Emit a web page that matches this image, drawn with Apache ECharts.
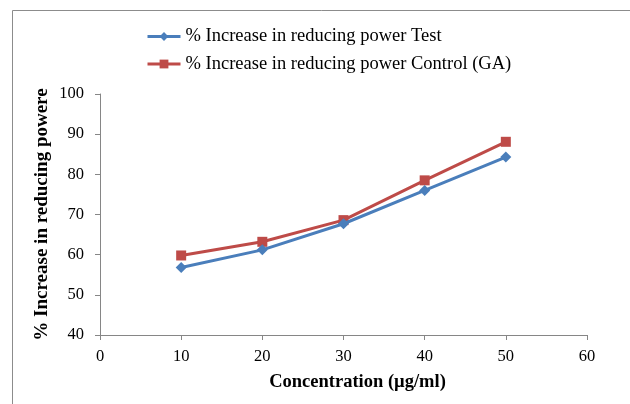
<!DOCTYPE html>
<html><head><meta charset="utf-8">
<script src="https://cdn.jsdelivr.net/npm/echarts@6/dist/echarts.min.js"></script>
<style>html,body{margin:0;padding:0;background:#fff}#c{width:630px;height:404px}</style>
</head><body><div id="c"></div>
<script>
const concentrations = [10, 20, 30, 40, 50];
const testValues = [56.8, 61.2, 67.7, 76.0, 84.3];
const controlValues = [59.8, 63.2, 68.6, 78.5, 88.1];
const seriesNames = ['% Increase in reducing power Test', '% Increase in reducing power Control (GA)'];
const xTitle = 'Concentration (\u00b5g/ml)';
const yTitle = '% Increase in reducing powere';

const chart = echarts.init(document.getElementById('c'), null, {renderer: 'canvas'});
const font = '"Liberation Serif","Times New Roman",serif';
chart.setOption({
  animation: false,
  backgroundColor: '#fff',
  graphic: [{
    type: 'rect', shape: {x: 12.5, y: 10.5, width: 700, height: 500},
    style: {fill: 'none', stroke: '#8c8c8c', lineWidth: 1}, silent: true
  }],
  legend: {
    orient: 'vertical', left: 146, top: 27, itemGap: 8.5, padding: 0,
    itemWidth: 33, itemHeight: 11,
    lineStyle: {width: 3},
    textStyle: {fontFamily: font, fontSize: 18.5, color: '#000'},
    data: seriesNames
  },
  grid: {left: 100, right: 43, top: 94, bottom: 69},
  xAxis: {
    type: 'value', min: 0, max: 60, interval: 10,
    name: xTitle, nameLocation: 'middle', nameGap: 38, nameMoveOverlap: false,
    nameTextStyle: {fontFamily: font, fontSize: 18.5, fontWeight: 'bold', color: '#000', padding: [0, 0, 0, 28]},
    axisLine: {show: true, lineStyle: {color: '#868686'}},
    axisTick: {show: true, length: 5, lineStyle: {color: '#868686'}},
    axisLabel: {fontFamily: font, fontSize: 16.5, color: '#000', margin: 13},
    splitLine: {show: false}
  },
  yAxis: {
    type: 'value', min: 40, max: 100, interval: 10,
    name: yTitle, nameLocation: 'middle', nameGap: 48, nameRotate: 90, nameMoveOverlap: false,
    nameTextStyle: {fontFamily: font, fontSize: 19, fontWeight: 'bold', color: '#000'},
    axisLine: {show: true, lineStyle: {color: '#868686'}},
    axisTick: {show: true, length: 5, lineStyle: {color: '#868686'}},
    axisLabel: {fontFamily: font, fontSize: 16.5, color: '#000', margin: 16},
    splitLine: {show: false}
  },
  series: [
    {
      name: seriesNames[0], type: 'line',
      data: concentrations.map((x, i) => [x, testValues[i]]),
      symbol: 'diamond', symbolSize: 11,
      lineStyle: {color: '#4A7EBB', width: 3},
      itemStyle: {color: '#4A7EBB'}, z: 3
    },
    {
      name: seriesNames[1], type: 'line',
      data: concentrations.map((x, i) => [x, controlValues[i]]),
      symbol: 'rect', symbolSize: 10,
      lineStyle: {color: '#BE4B48', width: 3},
      itemStyle: {color: '#BE4B48'}, z: 2
    }
  ]
});
</script></body></html>
